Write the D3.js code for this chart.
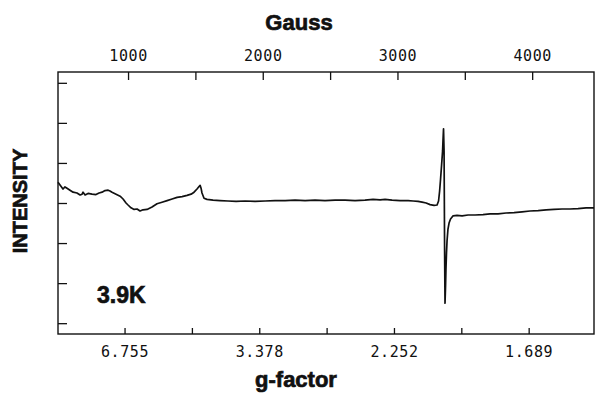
<!DOCTYPE html>
<html>
<head>
<meta charset="utf-8">
<script src="https://cdn.jsdelivr.net/npm/d3@7"></script>
<style>
  body { margin: 0; background: #fff; }
  svg { display: block; }
  .tick text { font-family: "DejaVu Sans Mono", monospace; font-size: 15px; fill: #111; letter-spacing: 0.6px; }
  .tick line { stroke: #111; stroke-width: 1.3; }
  .label { font-family: "Liberation Sans", Arial, sans-serif; font-weight: bold; fill: #111; stroke: #111; stroke-width: 0.7px; }
</style>
</head>
<body>
<svg></svg>
<script>
// field (Gauss) and EPR intensity
const gauss = [480, 495, 517, 532, 547, 569, 592, 621, 644, 659, 666, 681, 703, 733, 762, 785, 807, 829, 852, 866,
  881, 911, 941, 963, 985, 1000, 1022, 1045, 1067, 1089, 1111, 1141, 1178, 1215, 1252, 1290, 1327, 1364, 1401, 1438,
  1468, 1490, 1512, 1527, 1535, 1542, 1549, 1564, 1586, 1631, 1683, 1742, 1802, 1869, 1943, 2017, 2091, 2166, 2240,
  2314, 2388, 2462, 2537, 2611, 2685, 2759, 2819, 2871, 2908, 2960, 3019, 3079, 3116, 3153, 3183, 3213, 3242, 3272,
  3294, 3305, 3313, 3320, 3327, 3335, 3338, 3342, 3346, 3350, 3353, 3357, 3360, 3364, 3368, 3375, 3383, 3394, 3413,
  3442, 3480, 3524, 3576, 3635, 3687, 3747, 3806, 3866, 3925, 3984, 4044, 4104, 4163, 4222, 4281, 4341, 4400, 4459];
const intensity = [0.52, 0.45, 0.35, 0.40, 0.37, 0.32, 0.27, 0.25, 0.20, 0.22, 0.27, 0.20, 0.24, 0.22, 0.21, 0.25, 0.27, 0.31, 0.32, 0.30,
  0.27, 0.22, 0.17, 0.10, 0.00, -0.05, -0.12, -0.16, -0.15, -0.20, -0.17, -0.16, -0.10, -0.02, 0.02, 0.06, 0.10, 0.14, 0.16, 0.19,
  0.22, 0.27, 0.35, 0.41, 0.44, 0.37, 0.25, 0.12, 0.09, 0.07, 0.06, 0.05, 0.04, 0.05, 0.04, 0.05, 0.06, 0.06, 0.07,
  0.06, 0.07, 0.06, 0.07, 0.07, 0.06, 0.07, 0.09, 0.08, 0.09, 0.07, 0.06, 0.06, 0.05, 0.04, 0.02, 0.00, -0.04, -0.06,
  -0.05, 0.05, 0.30, 0.60, 0.92, 1.30, 1.55, 1.85, 1.30, -1.20, -2.50, -2.07, -1.65, -1.25, -0.95, -0.65, -0.50, -0.40, -0.32,
  -0.31, -0.32, -0.30, -0.30, -0.29, -0.27, -0.27, -0.25, -0.24, -0.22, -0.20, -0.19, -0.17, -0.16, -0.15, -0.15, -0.14, -0.12, -0.12];

const gaussTicks = [1000, 1500, 2000, 2500, 3000, 3500, 4000];
const gaussLabels = ['1000', '', '2000', '', '3000', '', '4000'];
const gLabels = ['6.755', '', '3.378', '', '2.252', '', '1.689'];
const yTicks = [-3, -2, -1, 0, 1, 2, 3];

const width = 595, height = 393;
const mLeft = 58, mRight = 594, mTop = 72, mBottom = 334;

const svg = d3.select('svg').attr('width', width).attr('height', height);

const x = d3.scaleLinear().domain([480, 4459]).range([mLeft, mRight]);
// bottom axis on the scan sits ~3px to the left of the top one
const xb = d3.scaleLinear().domain([480, 4459]).range([mLeft - 3.5, mRight - 3.5]);
const y = d3.scaleLinear().domain([-3.27, 3.27]).range([mBottom, mTop]);

svg.append('g')
  .attr('transform', `translate(0,${mTop})`)
  .call(d3.axisTop(x).tickValues(gaussTicks).tickSizeInner(-8).tickSizeOuter(0).tickPadding(11)
    .tickFormat((d, i) => gaussLabels[i]))
  .call(g => g.select('.domain').remove());

svg.append('g')
  .attr('transform', `translate(0,${mBottom})`)
  .call(d3.axisBottom(xb).tickValues(gaussTicks).tickSizeInner(-6).tickSizeOuter(0).tickPadding(12)
    .tickFormat((d, i) => gLabels[i]))
  .call(g => g.select('.domain').remove());

svg.append('g')
  .attr('transform', `translate(${mLeft},0)`)
  .call(d3.axisLeft(y).tickValues(yTicks).tickSizeInner(-9).tickSizeOuter(0).tickFormat(''))
  .call(g => g.select('.domain').remove());

svg.append('rect')
  .attr('x', mLeft).attr('y', mTop)
  .attr('width', mRight - mLeft).attr('height', mBottom - mTop)
  .attr('fill', 'none').attr('stroke', '#111').attr('stroke-width', 1.4);

const line = d3.line()
  .x((d, i) => x(gauss[i]))
  .y(d => y(d));

svg.append('path')
  .datum(intensity)
  .attr('d', line)
  .attr('fill', 'none')
  .attr('stroke', '#111')
  .attr('stroke-width', 1.7)
  .attr('stroke-linejoin', 'round');

svg.append('text').attr('class', 'label')
  .attr('x', 299).attr('y', 30)
  .attr('text-anchor', 'middle').style('font-size', '22px')
  .text('Gauss');

svg.append('text').attr('class', 'label')
  .attr('x', 296).attr('y', 387)
  .attr('text-anchor', 'middle').style('font-size', '22px')
  .text('g-factor');

svg.append('text').attr('class', 'label')
  .attr('transform', 'translate(27,201) rotate(-90)')
  .attr('text-anchor', 'middle').style('font-size', '20px')
  .text('INTENSITY');

svg.append('text').attr('class', 'label')
  .attr('x', 97).attr('y', 303)
  .style('font-size', '23px')
  .text('3.9K');
</script>
</body>
</html>
